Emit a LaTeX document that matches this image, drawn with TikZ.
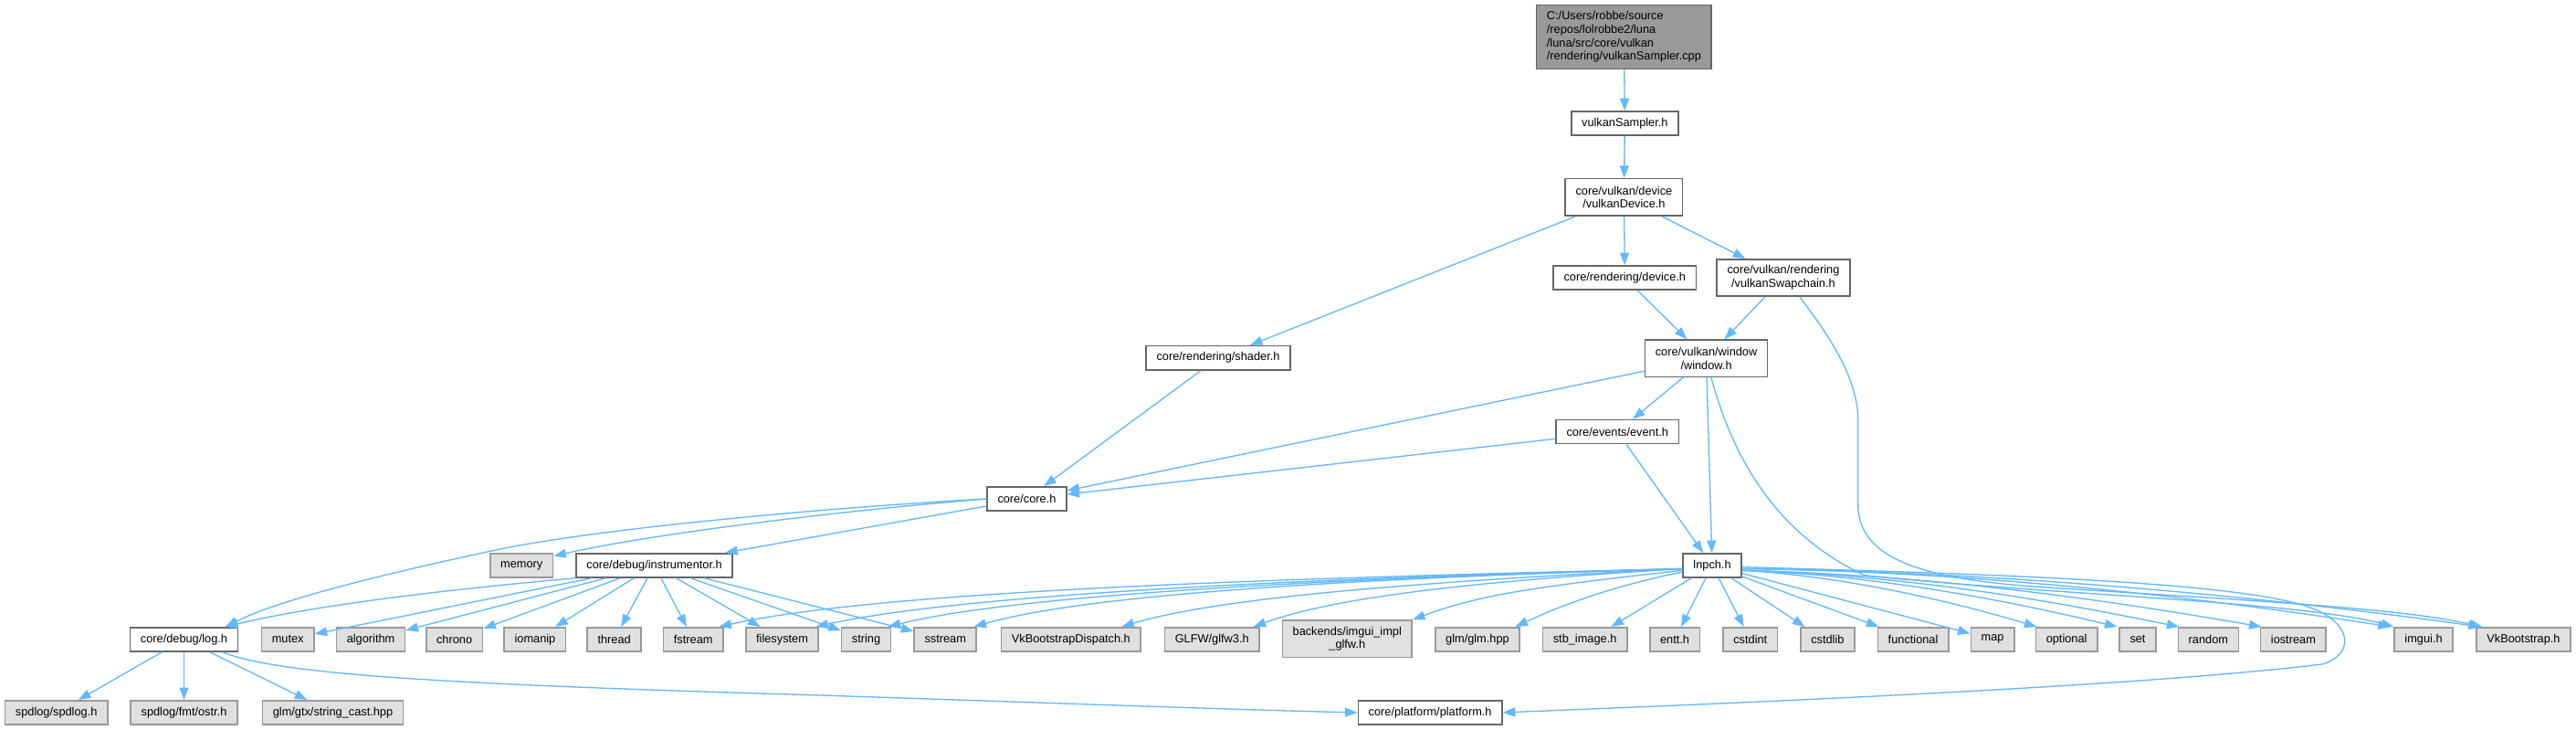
\documentclass[tikz,border=0pt]{standalone}
\usepackage{fontspec}
\setmainfont{Liberation Sans}
\usetikzlibrary{arrows.meta}
\definecolor{edgeblue}{HTML}{63B8FF}
\definecolor{nodeborder}{HTML}{666666}
\definecolor{grayborder}{HTML}{999999}
\definecolor{grayfill}{HTML}{E0E0E0}
\definecolor{mainfill}{HTML}{999999}
\begin{document}
\begin{tikzpicture}[x=1pt,y=-1pt,
  base/.style={rectangle, line width=0.9pt, font=\fontsize{7.1}{8.2}\selectfont,
    inner xsep=6.3pt, inner ysep=1pt, minimum height=14.5pt, align=center, text=black},
  hdr/.style={base, draw=nodeborder, fill=white},
  sys/.style={base, draw=grayborder, fill=grayfill},
  mainfile/.style={base, draw=nodeborder, fill=mainfill, align=left, minimum height=39pt},
  two/.style={minimum height=22.5pt},
  edge/.style={draw=edgeblue, line width=0.75pt, -{Triangle[length=7.5pt,width=5.5pt]}},
]
\useasboundingbox (0,0) rectangle (1568,444);

% ---- nodes ----
\node[mainfile] (cpp) at (988.5,22.5) {C:/Users/robbe/source\\/repos/lolrobbe2/luna\\/luna/src/core/vulkan\\/rendering/vulkanSampler.cpp};
\node[hdr] (sampler) at (989,75) {vulkanSampler.h};
\node[hdr,two] (vkdevice) at (988.5,120) {core/vulkan/device\\/vulkanDevice.h};
\node[hdr] (device) at (989,169) {core/rendering/device.h};
\node[hdr,two] (swapchain) at (1085.5,169) {core/vulkan/rendering\\/vulkanSwapchain.h};
\node[hdr] (shader) at (741.5,217.7) {core/rendering/shader.h};
\node[hdr,two] (window) at (1038.6,218) {core/vulkan/window\\/window.h};
\node[hdr] (event) at (984.5,262.7) {core/events/event.h};
\node[hdr] (core) at (625,303.5) {core/core.h};
\node[sys] (memory) at (317.5,344) {memory};
\node[hdr] (instr) at (398.3,344) {core/debug/instrumentor.h};
\node[hdr] (lnpch) at (1042.2,344) {lnpch.h};

\node[hdr] (log) at (112,389) {core/debug/log.h};
\node[sys] (mutex) at (175.2,389) {mutex};
\node[sys] (algorithm) at (225.7,389) {algorithm};
\node[sys] (chrono) at (276.6,389) {chrono};
\node[sys] (iomanip) at (325.7,389) {iomanip};
\node[sys] (thread) at (373.9,389) {thread};
\node[sys] (fstream) at (422,389) {fstream};
\node[sys] (filesystem) at (476.1,389) {filesystem};
\node[sys] (string) at (527.2,389) {string};
\node[sys] (sstream) at (575.4,389) {sstream};
\node[sys] (vkbsd) at (651.9,389) {VkBootstrapDispatch.h};
\node[sys] (glfw) at (737.7,389) {GLFW/glfw3.h};
\node[sys,two] (backends) at (820,388.7) {backends/imgui\_impl\\\_glfw.h};
\node[sys] (glm) at (899.3,389) {glm/glm.hpp};
\node[sys] (stb) at (964.7,389) {stb\_image.h};
\node[sys] (entt) at (1019.4,389) {entt.h};
\node[sys] (cstdint) at (1065.4,389) {cstdint};
\node[sys] (cstdlib) at (1112.4,389) {cstdlib};
\node[sys] (functional) at (1164.5,389) {functional};
\node[sys] (map) at (1212.9,389) {map};
\node[sys] (optional) at (1257.9,389) {optional};
\node[sys] (set) at (1301.2,389) {set};
\node[sys] (random) at (1344.2,389) {random};
\node[sys] (iostream) at (1395.9,389) {iostream};
\node[sys] (imgui) at (1475.2,389) {imgui.h};
\node[sys] (vkbs) at (1536,389) {VkBootstrap.h};

\node[sys] (spdlog) at (34.3,433.5) {spdlog/spdlog.h};
\node[sys] (ostr) at (112,433.5) {spdlog/fmt/ostr.h};
\node[sys] (strcast) at (202.6,433.5) {glm/gtx/string\_cast.hpp};
\node[hdr] (platform) at (870.5,433.5) {core/platform/platform.h};

% ---- edges ----
\draw[edge] (cpp) -- (sampler);
\draw[edge] (sampler) -- (vkdevice);
\draw[edge] (vkdevice) -- (shader);
\draw[edge] (vkdevice) -- (device);
\draw[edge] (vkdevice) -- (swapchain);
\draw[edge] (device) -- (window);
\draw[edge] (swapchain) -- (window);
\draw[edge] ([xshift=10pt]swapchain.south) .. controls (1110,200) and (1131,228) .. (1131,256)
   -- (1131,307) .. controls (1131,340) and (1170,352) .. (1240,357)
   .. controls (1380,366) and (1460,370) .. ([xshift=4pt]vkbs.north west);
\draw[edge] (shader) -- (core);
\draw[edge] (window) -- (core);
\draw[edge] (window) -- (event);
\draw[edge] (window) -- (lnpch);
\draw[edge] ([xshift=3pt]window.south) .. controls (1050,260) and (1070,320) .. (1135,350)
   .. controls (1250,362) and (1400,366) .. (imgui.north west);
\draw[edge] (event) -- (core);
\draw[edge] (event) -- (lnpch);
\draw[edge] (core.west) .. controls (520,310) and (400,324) .. ([yshift=-2pt]memory.north east);
\draw[edge] (core) -- (instr);
\draw[edge] (core.west) .. controls (500,309) and (360,322) .. (300,335)
   .. controls (230,350) and (170,365) .. ([xshift=-8pt]log.north east);

% instrumentor fan
\draw[edge] (instr.south west) .. controls +(-90,8) and +(50,-12) .. ([xshift=-8pt]log.north east);
\foreach \tgt in {mutex,algorithm,chrono,iomanip,thread,fstream,filesystem,string,sstream}
  \draw[edge] (instr) -- (\tgt);

% lnpch fan (left)
\draw[edge] ([yshift=-2pt]lnpch.west) .. controls +(-250,6) and +(100,-22) .. ([xshift=-3pt]fstream.north east);
\draw[edge] ([yshift=-2pt]lnpch.west) .. controls +(-230,6) and +(90,-20) .. ([xshift=-2pt]filesystem.north east);
\draw[edge] ([yshift=-2pt]lnpch.west) .. controls +(-210,6) and +(80,-20) .. ([xshift=-2pt]string.north east);
\draw[edge] ([yshift=-2pt]lnpch.west) .. controls +(-200,6) and +(70,-20) .. ([xshift=-2pt]sstream.north east);
\draw[edge] ([yshift=-2pt]lnpch.west) .. controls +(-160,8) and +(60,-18) .. ([xshift=-12pt]vkbsd.north east);
\draw[edge] ([yshift=-2pt]lnpch.west) .. controls +(-130,8) and +(50,-18) .. ([xshift=-4pt]glfw.north east);
\draw[edge] ([yshift=-3pt]lnpch.west) .. controls +(-90,10) and +(40,-15) .. (backends.north east);
\draw[edge] ([yshift=-4pt]lnpch.west) .. controls +(-40,8) and +(30,-14) .. ([xshift=-3pt]glm.north east);
\draw[edge] (lnpch) -- ([xshift=-10pt]stb.north east);
\draw[edge] (lnpch) -- (entt);
\draw[edge] (lnpch) -- (cstdint);
\draw[edge] (lnpch) -- ([xshift=3pt]cstdlib.north west);
\draw[edge] (lnpch) -- (functional);
\draw[edge] (lnpch) -- (map);
% lnpch fan (right)
\draw[edge] ([yshift=-3pt]lnpch.east) .. controls +(70,4) and +(-40,-12) .. ([xshift=1pt]optional.north west);
\draw[edge] ([yshift=-3pt]lnpch.east) .. controls +(90,3) and +(-50,-12) .. ([xshift=-1pt]set.north west);
\draw[edge] ([yshift=-3pt]lnpch.east) .. controls +(110,3) and +(-60,-12) .. ([xshift=1pt]random.north west);
\draw[edge] ([yshift=-3pt]lnpch.east) .. controls +(130,3) and +(-70,-12) .. ([xshift=1pt]iostream.north west);
\draw[edge] ([yshift=-2pt]lnpch.east) .. controls +(160,2) and +(-90,-14) .. ([xshift=-2pt]imgui.north west);
\draw[edge] ([yshift=-2pt]lnpch.east) .. controls +(180,2) and +(-100,-14) .. ([xshift=3pt]vkbs.north west);
\draw[edge] ([yshift=-1pt]lnpch.east) .. controls (1250,350) and (1380,356) .. (1412,372)
   .. controls (1432,382) and (1432,398) .. (1414,404)
   .. controls (1300,418) and (1050,428) .. (platform.east);

% log.h
\draw[edge] (log) -- (spdlog);
\draw[edge] (log) -- (ostr);
\draw[edge] (log) -- (strcast);
\draw[edge] ([xshift=-10pt]log.south east) .. controls (170,410) and (260,416) .. (500,423)
   .. controls (650,428) and (760,432) .. (platform.west);
\end{tikzpicture}
\end{document}
